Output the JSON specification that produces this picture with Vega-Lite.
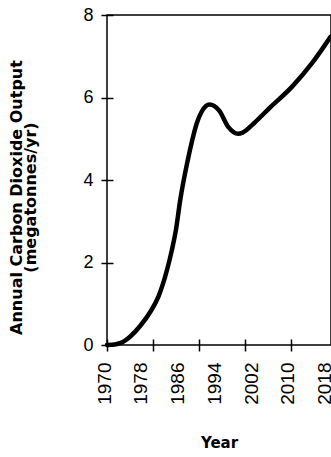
{
  "$schema": "https://vega.github.io/schema/vega-lite/v6.json",
  "autosize": "none",
  "width": 224,
  "height": 330,
  "padding": {"left": 107, "top": 15, "right": 0, "bottom": 112},
  "background": "white",
  "config": {
    "view": {"stroke": "black", "strokeWidth": 1.5},
    "axis": {"grid": false}
  },
  "data": {
    "values": [
      {"year": 1970, "co2": 0},
      {"year": 1972, "co2": 0.02},
      {"year": 1973, "co2": 0.05},
      {"year": 1975, "co2": 0.2},
      {"year": 1977.2, "co2": 0.46},
      {"year": 1979.4, "co2": 0.8},
      {"year": 1981.2, "co2": 1.18},
      {"year": 1983, "co2": 1.8},
      {"year": 1984.1, "co2": 2.3},
      {"year": 1985, "co2": 2.8},
      {"year": 1985.9, "co2": 3.5},
      {"year": 1987.5, "co2": 4.45},
      {"year": 1988.5, "co2": 4.95},
      {"year": 1989.5, "co2": 5.37},
      {"year": 1990.6, "co2": 5.66},
      {"year": 1992.3, "co2": 5.83},
      {"year": 1994.4, "co2": 5.68},
      {"year": 1996.4, "co2": 5.28},
      {"year": 1998.5, "co2": 5.12},
      {"year": 1999.5, "co2": 5.15},
      {"year": 2001.9, "co2": 5.37},
      {"year": 2005.1, "co2": 5.72},
      {"year": 2010.3, "co2": 6.27},
      {"year": 2014.7, "co2": 6.85},
      {"year": 2018.6, "co2": 7.47}
    ]
  },
  "mark": {"type": "line", "interpolate": "monotone", "color": "black", "strokeWidth": 4.5, "strokeCap": "round", "strokeJoin": "round"},
  "encoding": {
    "x": {
      "field": "year",
      "type": "quantitative",
      "scale": {"domain": [1970, 2018.7], "nice": false, "zero": false},
      "axis": {
        "title": "Year",
        "titleFont": "DejaVu Sans",
        "titleFontWeight": "bold",
        "titleFontSize": 15,
        "titleColor": "black",
        "titleBaseline": "alphabetic",
        "titleY": 108,
        "values": [1970, 1978, 1980, 1986, 1990, 1994, 2000, 2002, 2010, 2018],
        "labelExpr": "indexof([1980, 1990, 2000], datum.value) >= 0 ? '' : datum.label",
        "format": "d",
        "labelAngle": -90,
        "labelFont": "Liberation Sans",
        "labelFontSize": 19,
        "labelColor": "black",
        "labelPadding": 11,
        "labelOffset": -3,
        "labelOverlap": false,
        "labelFlush": false,
        "labelBound": false,
        "domain": false,
        "offset": -6,
        "tickSize": 12,
        "tickWidth": 1.5,
        "tickColor": "black",
        "tickOpacity": {"condition": {"test": "indexof([1970, 1980, 1990, 2000, 2010], datum.value) < 0", "value": 0}, "value": 1}
      }
    },
    "y": {
      "field": "co2",
      "type": "quantitative",
      "scale": {"domain": [0, 8], "nice": false},
      "axis": {
        "title": ["Annual Carbon Dioxide Output", "(megatonnes/yr)"],
        "titleFont": "DejaVu Sans",
        "titleFontWeight": "bold",
        "titleFontSize": 16,
        "titleLineHeight": 14,
        "titleColor": "black",
        "titleX": -89,
        "titleY": 182,
        "values": [0, 2, 4, 6, 8],
        "labelFont": "Liberation Sans",
        "labelFontSize": 18,
        "labelColor": "black",
        "labelPadding": 8,
        "labelOverlap": false,
        "labelFlush": false,
        "labelBound": false,
        "domain": false,
        "offset": -6,
        "tickSize": 12,
        "tickWidth": 1.5,
        "tickColor": "black"
      }
    }
  }
}
